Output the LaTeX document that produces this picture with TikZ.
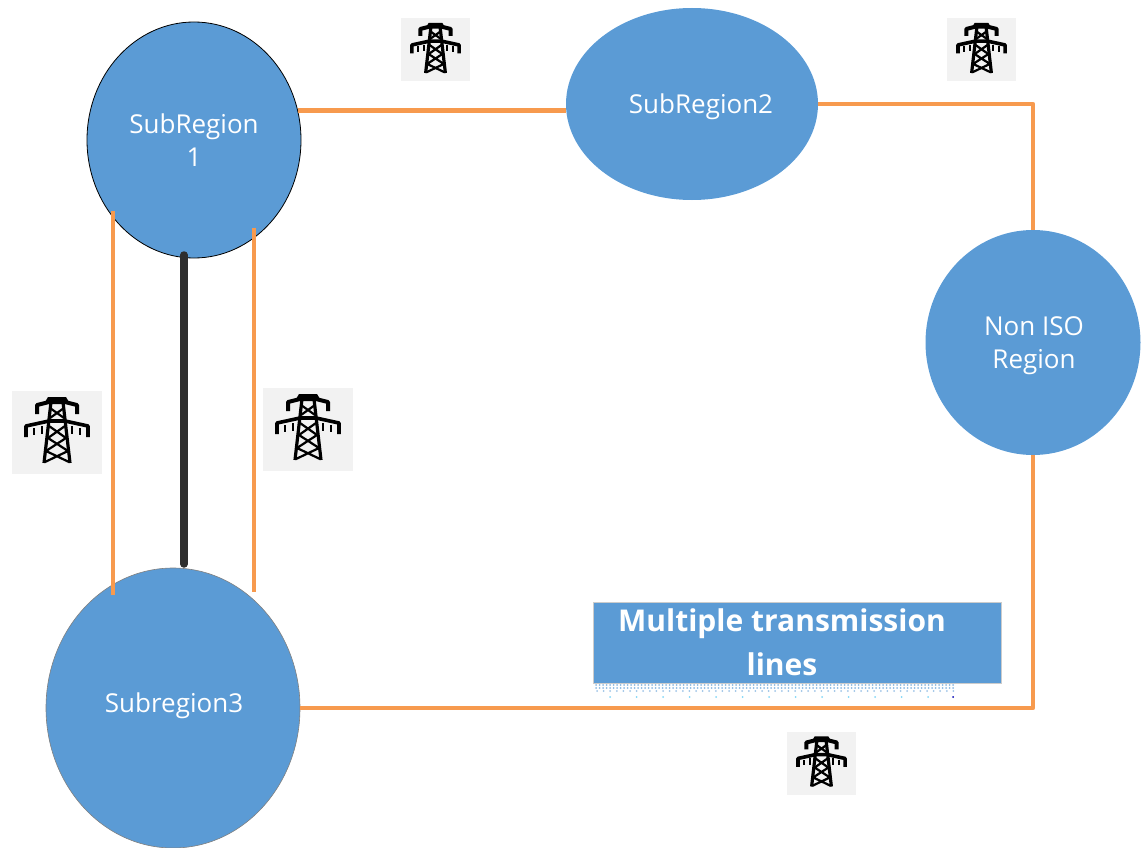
\documentclass[tikz,border=0pt]{standalone}
\usepackage{fontspec}
\setmainfont{Open Sans}
\usetikzlibrary{shapes.geometric}
\definecolor{regionblue}{HTML}{5B9BD5}
\definecolor{lineorange}{HTML}{F79A4E}
\definecolor{towergray}{HTML}{F2F2F2}
\tikzset{
	region/.style = {ellipse, fill = regionblue, inner sep = 0pt, text = white, align = center, font = \fontsize{26}{33}\selectfont},
	regionlabel/.style = {text = white, font = \fontsize{26}{33}\selectfont},
	tieline/.style = {draw = lineorange, line width = 4.8pt},
	pylon/.pic = {
		\fill [towergray] (-45, -41) rectangle (45, 42);
		\fill (-9, -35) -- (9, -35) -- (12, -30) -- (-12, -30) -- cycle;
		\draw [line width = 4pt, line join = round] (-20, -18) -- (-20, -27) -- (-8, -30) -- (8, -30) -- (20, -27) -- (20, -18);
		\draw [line width = 3.6pt, line join = round] (-31, 5) -- (-31, -6) -- (-8, -11) -- (8, -11) -- (31, -6) -- (31, 5);
		\draw [line width = 2.6pt] (-23, -4) -- (-23, 3) (-15, -6) -- (-15, 2) (15, -6) -- (15, 2) (23, -4) -- (23, 3);
		\draw [line width = 3.2pt, line join = round] (-6, -30) -- (-13, 31) (6, -30) -- (13, 31);
		\draw [line width = 2.2pt] (-7, -24) -- (7, -14) (7, -24) -- (-7, -14) (-8, -6) -- (9, 6) (8, -6) -- (-9, 6) (-9, 6) -- (11, 19) (9, 6) -- (-11, 19) (-11, 19) -- (12, 30) (11, 19) -- (-12, 30);
	}
}
\begin{document}
\begin{tikzpicture}[x = 1pt, y = -1pt]
	\useasboundingbox (0, 0) rectangle (1143, 848);
	% towers
	\pic [scale = 1] at (57, 432) {pylon};
	\pic [scale = 1] at (308, 429) {pylon};
	\pic [scale = 0.76] at (435.5, 49.5) {pylon};
	\pic [scale = 0.76] at (981.5, 49.5) {pylon};
	\pic [scale = 0.76] at (821.5, 763) {pylon};
	% regions
	\node [region, draw = black, line width = 0.8pt, minimum width = 214pt, minimum height = 236pt] (sub1) at (194, 140) {};
	\node [region, minimum width = 252pt, minimum height = 192pt] (sub2) at (692, 104) {};
	\node [region, minimum width = 215pt, minimum height = 225pt] (noniso) at (1033, 342.5) {};
	\node [region, draw = gray, line width = 0.6pt, minimum width = 254pt, minimum height = 280pt] (sub3) at (173, 708) {};
	\node [regionlabel, align = center] (sub1label) at (194, 140) {SubRegion\\1};
	\node [regionlabel] (sub2label) at (701, 107) {SubRegion2};
	\node [regionlabel, align = center] (nonisolabel) at (1034, 346) {Non ISO\\Region};
	\node [regionlabel] (sub3label) at (174, 706) {Subregion3};
	% lines
	\draw [tieline] (sub1.16) -- (sub1.16 -| sub2.west);
	\draw [tieline, line join = round] (sub2.east) -| (noniso.north);
	\draw [tieline, line join = round] (noniso.south) |- (sub3.east);
	\coordinate (left1) at (113, 211);
	\coordinate (left3) at (113, 595);
	\coordinate (right1) at (254, 228);
	\coordinate (right3) at (254, 592);
	\coordinate (mid1) at (184, 255);
	\coordinate (mid3) at (184, 564);
	\draw [tieline] (left1) -- (left3);
	\draw [tieline] (right1) -- (right3);
	\draw [line width = 7.5pt, line cap = round, color = black!82] (mid1) -- (mid3);
	% label box
	\node [draw = black!20, line width = 1pt, fill = regionblue, minimum width = 408pt, minimum height = 81pt, inner sep = 0pt] (multibox) at (797, 642.5) {};
	\node [text = white, align = center, font = \fontsize{30}{44}\selectfont\bfseries] (multilabel) at (782, 642) {Multiple transmission\\lines};
	% dots under the box
	\foreach \y in {685, 688} {
		\foreach \n in {0, ..., 102} {
			\fill [regionblue!70] (596 + 3.5 * \n, \y) circle (1pt);
		}
	}
	\foreach \n in {0, ..., 54} {
		\fill [regionblue!60] (597 + 6.6 * \n, 691) circle (1pt);
	}
	\foreach \n in {0, ..., 12} {
		\fill [cyan!50] (610 + 26.5 * \n, 697) circle (1pt);
	}
	\fill [blue!70!black] (953, 697) circle (1pt);
\end{tikzpicture}
\end{document}
